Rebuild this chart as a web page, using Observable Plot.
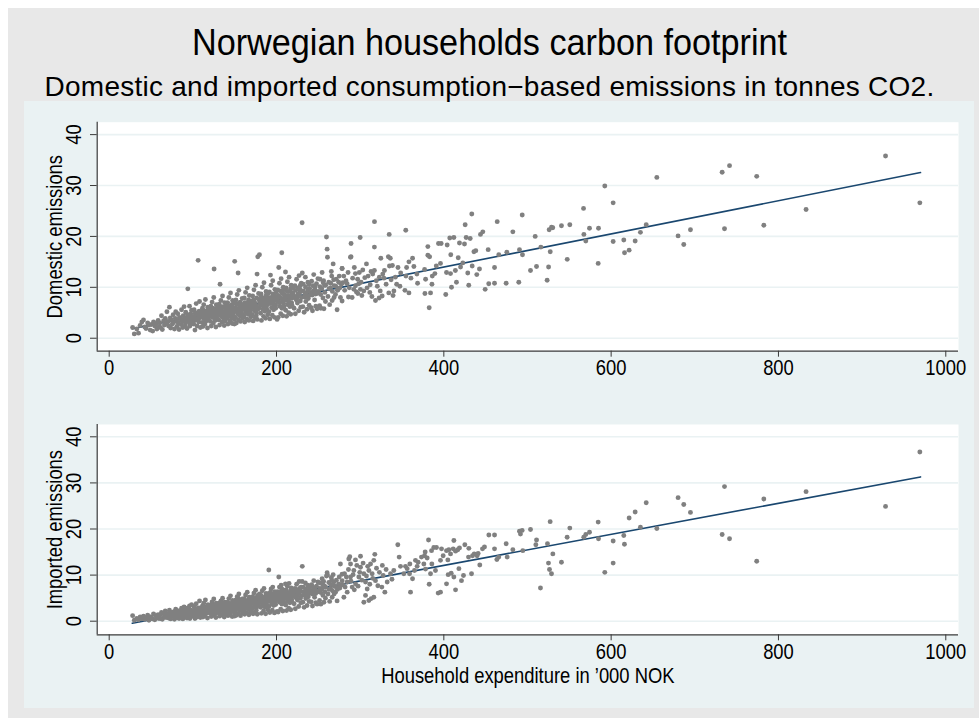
<!DOCTYPE html>
<html><head><meta charset="utf-8">
<script src="https://cdn.jsdelivr.net/npm/d3@7"></script>
<script src="https://cdn.jsdelivr.net/npm/@observablehq/plot@0.6"></script>
<style>
html,body{margin:0;padding:0;background:#fff;}
#page{position:relative;width:979px;height:718px;overflow:hidden;font-family:'Liberation Sans',Arial,sans-serif;}
#outer{position:absolute;left:8px;top:8px;width:971px;height:710px;background:#e8e8e8;}
#inner{position:absolute;left:24px;top:101px;width:950px;height:607px;background:#eaf2f3;}
#title{position:absolute;left:0;width:979px;top:25px;text-align:center;font-size:36px;line-height:36px;color:#000;white-space:nowrap;transform:scaleX(0.95);transform-origin:489.5px 0;}
#subtitle{position:absolute;left:0;width:979px;top:73px;text-align:center;font-size:28px;line-height:28px;letter-spacing:0.25px;color:#000;white-space:nowrap;}
.chart{position:absolute;left:0;top:0;}
</style></head>
<body><div id="page"><div id="outer"></div><div id="inner"></div>
<div id="title">Norwegian households carbon footprint</div>
<div id="subtitle">Domestic and imported consumption−based emissions in tonnes CO2.</div>
<div id="top" class="chart"></div><div id="bottom" class="chart"></div></div>
<script>
const xTicks = [0, 200, 400, 600, 800, 1000];
const yTicks = [0, 10, 20, 30, 40];
const xLabel = "Household expenditure in ’000 NOK";
const domesticLabel = "Domestic emissions";
const importedLabel = "Imported emissions";

// dense low/middle-income households (shared expenditure, '000 NOK)
const expenditure = [
28,30,33,35,37,39,
41,42.5,44,46,47.5,49,
50.5,52,53,54.5,56,57,58.5,59.5,
60.5,61.5,62.5,63.5,65,66,67,68,69,69.5,
70.5,71,72,73,73.5,74.5,75.5,76.5,77,78,79,79.5,
80.5,81,82,82.5,83.5,84,85,86,86.5,87.5,88,88.5,89,89.5,
90.5,91,91.5,92,92.5,93,94,94.5,95.5,96,96.5,97.5,98,98.5,99,99.5,
100.5,101,101.5,102,102.5,103,103.5,104,104.5,105,105.5,106.3,107,107.5,108,108.5,109,109.5,
110.5,111,111.5,112,112.5,113,113.5,114,114.5,115,115.5,116,116.5,117,117.5,118,118.5,119,119.5,120,
120.5,121,121.5,122,122.5,123,123.5,124,124.5,125,125.4,126,126.5,127,127.5,128,128.5,129,129.5,130,122.8,126.8,
130.5,131,131.5,132,132.5,133,133.5,134,134.5,135,135.5,136,136.5,137,137.5,138,138.5,139,139.5,140,131.8,134.8,136.8,138.8,
140.5,141,141.5,142,142.5,143,143.5,144,144.5,145,145.5,146,146.5,147,147.5,148,148.5,149,149.5,150,149.7,141.8,144.8,147.8,
150.5,151,151.5,152,152.5,153,153.5,154.1,154.5,155,155.5,156,156.5,157,157.5,158,158.5,159,159.5,160,151.8,153.8,156.8,158.8,
160.5,161,161.5,162,162.5,163,163.5,164,164.5,165,165.5,166,166.5,167,167.5,168,168.5,169,169.5,170,161.8,163.8,166.8,168.8,
170.5,171,171.5,172,172.5,173,173.5,174,174.5,175,175.5,176,176.8,177,177.6,178,178.5,179,179.6,180,171.8,173.8,175.8,178.8,
180.5,181,181.5,182,182.5,183,183.5,184,184.5,185,185.5,186,186.5,187,187.5,188,188.5,189,189.5,190,182.8,186.8,
190.8,191,191.5,192,192.8,193,193.5,194,194.5,195,195.5,196,196.5,197,197.5,198,198.5,199,199.5,200,191.8,196.8,
200.5,200.7,201.5,202,202.7,203,203.5,204,204.5,205,205.5,206.3,206.5,207,207.5,208,208.5,209,209.5,210,
210.7,211,211.5,212,212.5,213,213.5,214,214.5,215,215.5,216,216.5,217,217.5,218,218.5,219.5,
220.5,221,222,222.5,223.5,224,225,225.5,226.5,227,228,228.5,229,229.5,224.8,227.8,
230.6,231.5,232,233,233.5,234.5,235,236,236.5,237.5,238,239,239.5,230.8,
240.5,241.5,242,243,244,244.5,245.5,246,247,248,248.5,249.5,
250.5,251.5,252,253,254,254.5,255.5,256.3,256.7,257.5,258.5,259.7,
260.5,260.9,261.5,262.5,263.5,264.5,265.5,266.5,267.7,269,
270.5,271.5,272.4,273.5,275,276.4,277.5,278.4
];
const domestic = [
2.1,0.85,1.8,1.0,2.5,3.2,
3.6,2.2,1.9,3.0,2.6,1.6,
2.7,1.4,3.2,2.4,2.9,1.8,3.5,2.2,
3.0,2.1,4.4,1.7,3.4,2.6,3.9,2.9,5.2,3.2,
3.3,2.4,6.1,4.0,2.0,3.6,2.8,4.6,3.1,1.8,3.9,5.2,
3.5,2.3,4.8,3.0,1.7,4.1,3.8,2.7,5.6,3.3,2.1,4.4,3.6,6.2,
4.0,2.6,5.1,3.9,3.4,1.9,9.7,4.4,3.1,6.3,2.4,4.8,3.7,5.5,2.9,4.2,
4.3,2.8,5.6,3.5,1.6,4.9,3.7,6.8,3.9,2.4,4.6,15.3,3.2,5.3,7.2,4.0,2.1,4.7,
4.6,3.1,5.9,2.3,4.2,6.6,3.8,5.0,2.8,7.6,4.4,3.4,5.4,4.0,2.0,6.1,4.8,3.6,5.7,4.3,
5.0,3.3,6.3,2.4,4.6,7.1,4.1,5.5,3.0,8.0,13.6,4.8,3.7,5.8,2.2,6.6,4.4,3.9,6.0,5.2,4.9,3.5,
5.3,3.6,6.7,2.6,10.6,4.9,7.4,4.3,5.8,3.2,8.3,5.1,3.9,6.2,2.5,7.0,4.7,4.1,6.5,5.5,5.0,6.0,4.5,3.4,
5.6,3.9,7.0,2.8,5.2,8.0,4.5,6.1,3.4,8.9,5.4,4.1,6.6,2.9,7.4,5.0,4.4,6.9,3.7,15.1,2.8,6.3,5.8,4.8,
6.0,4.1,7.5,3.0,5.6,8.6,4.8,12.8,3.6,9.4,5.8,4.4,7.1,3.3,6.4,5.3,4.7,7.8,3.9,6.2,6.7,5.1,5.9,4.3,
6.3,4.4,7.9,3.2,5.9,9.0,5.1,6.7,3.8,9.9,6.1,4.7,7.5,3.5,8.4,5.6,5.0,7.2,4.2,6.5,6.9,5.4,6.2,4.6,
6.6,4.6,8.3,3.4,6.2,9.5,5.4,7.0,4.0,10.4,6.4,5.0,12.6,3.7,16.0,5.9,8.8,7.6,16.4,6.8,7.2,5.7,4.4,6.0,
7.0,4.9,8.7,3.5,6.5,10.0,5.7,7.4,4.3,10.9,6.8,5.3,8.0,3.9,9.2,6.2,5.6,7.9,4.6,7.1,7.6,6.0,
7.3,5.2,9.1,3.8,12.4,6.8,10.4,6.0,7.7,4.5,11.3,7.1,5.6,8.4,4.1,9.6,6.5,5.9,8.2,7.4,7.9,6.3,
7.7,3.7,9.5,4.1,13.9,7.1,10.8,6.3,8.0,4.8,11.7,16.8,5.9,8.8,4.4,10.0,6.8,6.2,8.6,7.8,
13.0,5.5,9.9,4.3,7.4,11.1,6.6,8.3,5.0,12.0,7.9,6.2,9.3,4.7,10.4,7.0,6.5,8.9,
8.3,5.9,10.3,4.8,7.7,11.6,6.9,8.7,5.4,12.3,9.6,7.3,6.1,10.8,8.0,9.0,
22.7,6.2,10.6,5.1,8.1,12.0,7.2,9.0,5.7,11.0,7.8,6.5,9.8,12.8,
8.5,6.0,11.2,5.4,9.3,12.5,7.5,10.1,6.3,8.8,5.8,11.7,
8.9,6.4,11.6,5.9,9.7,12.9,7.9,11.3,5.8,10.4,7.2,19.9,
17.5,15.9,8.2,11.0,6.6,9.9,13.1,7.4,14.6,10.3,
8.6,11.6,5.6,9.5,12.2,8.0,10.6,13.7
];
const imported = [
1.2,0.2,0.6,0.3,0.9,0.5,
1.1,0.4,0.7,1.3,0.2,0.9,
0.9,0.5,1.6,0.3,1.2,0.7,1.4,0.6,
1.3,0.6,1.9,0.4,1.6,1.0,2.2,0.8,1.7,1.2,
1.5,0.7,2.4,1.8,0.5,1.4,1.1,2.0,1.6,0.4,1.3,2.6,
1.8,0.8,2.3,1.4,0.6,2.0,1.7,1.1,2.8,1.5,0.5,2.2,1.2,3.1,
2.0,1.0,2.6,1.7,1.6,0.7,2.9,2.3,1.3,3.3,0.6,2.4,1.9,3.6,1.1,2.1,
2.3,1.2,3.1,1.8,0.6,2.7,1.9,3.8,2.0,0.9,2.5,2.8,1.4,2.9,4.4,2.2,0.8,2.6,
2.6,1.5,3.3,0.9,2.2,3.9,2.0,2.9,1.1,4.6,2.4,1.7,3.0,2.1,0.7,3.6,2.7,1.9,3.4,2.5,
2.9,1.7,3.5,1.0,2.4,4.2,2.2,3.2,1.3,4.8,3.5,2.7,1.9,3.4,0.8,3.9,2.5,2.0,3.7,3.0,2.8,1.6,
3.1,1.8,3.8,1.1,4.0,2.7,4.4,2.3,3.4,1.4,5.0,3.0,2.0,3.6,0.9,4.1,2.6,2.1,3.9,3.2,2.9,3.5,2.4,1.6,
3.4,2.0,4.1,1.2,3.0,4.9,2.5,3.7,1.6,5.5,3.2,2.2,3.9,1.0,4.5,2.9,2.4,4.2,1.8,3.8,1.1,3.6,3.3,2.6,
3.7,2.2,4.6,1.3,3.3,5.3,2.8,5.0,1.7,5.9,3.5,2.4,4.3,1.2,3.8,3.1,2.6,4.8,1.9,3.6,4.0,3.0,3.4,2.3,
4.0,2.5,4.9,1.5,3.6,5.7,3.0,4.2,1.9,6.3,3.8,2.7,4.6,1.4,5.2,3.4,2.9,4.4,2.1,3.9,4.3,3.2,3.7,2.6,
4.3,2.7,5.3,1.6,3.9,6.1,3.2,4.5,2.0,6.7,4.1,2.9,5.1,1.5,5.6,3.6,5.5,4.8,5.9,4.2,4.6,3.5,2.3,3.8,
4.7,3.0,5.6,1.7,4.2,6.6,3.5,4.8,2.2,7.1,4.4,3.1,5.3,1.6,6.0,3.9,3.3,5.0,2.5,4.5,4.9,3.8,
11.1,3.2,6.0,1.9,6.3,4.4,7.0,3.8,5.2,2.4,7.4,4.6,3.4,5.7,1.8,6.4,4.1,3.6,5.4,4.8,5.1,4.0,
5.3,2.1,6.4,2.0,9.6,4.7,7.4,4.1,5.5,2.6,7.8,7.0,3.7,6.0,2.2,6.8,4.4,3.9,5.8,5.1,
8.1,3.5,6.8,2.3,5.0,7.6,4.3,5.8,2.8,8.2,5.4,4.0,6.3,2.5,7.2,4.7,4.2,6.1,
5.9,3.8,7.1,2.7,5.3,8.0,4.6,6.2,3.2,8.6,6.7,5.0,4.0,7.4,5.6,6.4,
8.6,4.1,7.4,3.0,5.6,8.3,4.9,6.5,3.4,7.8,5.3,4.3,6.9,11.9,
6.1,4.2,7.9,3.3,6.6,8.8,5.2,7.2,4.0,6.3,3.7,8.5,
6.5,4.5,8.3,3.7,7.0,9.2,5.6,8.6,4.1,7.6,5.0,9.8,
10.5,10.0,5.9,8.4,4.3,7.1,9.5,5.2,10.1,7.6,
6.3,8.9,4.4,7.2,9.6,12.4,7.9,10.2
];

// core of the cloud (households close to the fitted lines)
const expenditureCore = [
90.8,93.6,95.2,97.1,99.8,101.8,103.2,105.8,107.8,109.8,
111.8,113.8,115.8,117.8,119.8,121.8,123.8,125.8,127.8,129.8,
130.8,132.8,133.8,135.8,137.8,139.8,140.8,142.8,143.8,145.8,
146.8,148.8,150.8,152.8,154.8,155.8,157.8,159.8,160.8,162.8,
164.8,165.8,167.8,169.8,170.8,172.8,174.8,176.3,177.8,179.8,
180.8,181.8,183.8,184.8,185.8,187.8,188.8,189.8,190.3,192.3,
193.8,194.8,195.8,197.8,198.8,199.8,201.2,202.3,203.8,204.8,
205.8,206.8,207.8,208.8,209.8,211.3,212.8,213.8,215.3,216.8,
217.8,218.8,219.8,221.5,222.8,223.8,225.8,226.8,228.3,229.8,
231.8,233.8,234.8,236.8,237.8,238.8,240.8,242.8,243.8,245.8,
246.8,247.8,249.8,251.8,252.8,253.8,255.8,257.8,258.8,262.8,
264.8,266.8,268.3,270.8,272.8,274.3,266,268.8,275.8,279.2
];
const domesticCore = [
3.2,4.6,3.9,4.1,3.4,4.0,5.0,3.6,4.4,5.2,
4.1,5.3,3.7,5.1,4.6,4.3,5.9,4.2,5.4,4.7,
5.8,4.6,6.2,5.2,4.9,6.0,5.1,6.4,4.7,5.5,
6.1,5.6,5.3,6.8,5.7,6.3,5.0,6.6,5.8,7.0,
6.0,6.8,5.5,7.3,6.1,7.5,6.4,7.9,5.7,7.1,
6.6,8.2,6.9,7.8,6.3,8.5,7.3,6.7,8.8,7.5,
8.0,6.9,8.7,7.6,6.6,9.1,7.3,8.4,7.0,9.3,
7.8,8.9,7.2,9.5,8.1,7.6,9.2,8.4,7.1,9.7,
8.6,7.9,9.9,8.2,9.4,7.5,9.9,8.6,10.3,8.0,
9.3,8.6,10.0,8.2,9.5,10.6,9.0,8.5,10.3,9.6,
8.7,10.7,9.2,10.1,8.6,9.8,10.9,9.0,10.4,9.7,
10.8,9.2,11.5,10.2,9.4,11.0,12.2,8.0,9.9,10.9
];
const importedCore = [
1.5,2.5,1.8,2.2,1.4,2.0,2.6,1.7,2.4,2.9,
2.3,3.1,1.9,2.8,2.6,2.1,3.4,2.3,3.0,2.5,
3.3,2.6,3.7,2.9,2.8,3.5,3.0,3.9,2.7,3.2,
3.6,3.4,3.1,4.1,3.5,3.9,2.8,4.0,3.5,4.4,
3.8,4.1,3.3,4.7,3.9,4.8,4.2,5.1,3.4,4.6,
4.3,5.4,4.6,5.1,4.0,5.6,4.9,4.4,5.9,5.0,
5.3,4.5,5.9,5.1,4.3,6.1,4.8,5.7,4.6,6.3,
5.2,5.9,4.9,6.4,5.4,5.0,6.2,5.7,4.8,6.6,
5.8,5.3,6.8,5.6,6.5,5.0,6.9,6.0,7.2,5.5,
6.4,6.0,7.0,5.7,6.6,7.5,6.3,5.9,7.3,6.8,
6.0,7.6,6.5,7.1,6.2,7.0,7.8,6.4,7.4,6.9,
7.9,6.6,8.4,7.5,6.9,8.1,8.9,5.9,7.2,7.9
];

// middle/upper-income households: [expenditure, emissions]
const domesticMid = [
[592.4,29.9],[602.4,26.6],[567,25.5],[493.7,24.2],[433.4,24.4],[463.8,22.9],[425.5,22.3],[317.1,22.9],[354.5,21.2],[334.7,20.4],
[300,19.8],[540.6,22.1],[550.6,22.3],[530.2,21.7],[525.9,21.3],[574.1,21.6],[584.9,21.6],[567.4,20.4],[569.7,19.1],[615.1,19.3],
[628.7,19.1],[616,16.8],[621.5,17.3],[602.4,19.0],[584.5,14.7],[547.5,15.5],[516,17.9],[527.2,17.0],[525.2,14.0],[523.5,11.4],
[510.8,14.1],[503.6,13.3],[509.2,20.0],[482.5,20.9],[490.4,17.4],[494,16.4],[475.3,16.9],[465.7,16.4],[489.6,11.0],[474.5,10.8],
[460.6,10.8],[453.7,10.7],[449.4,9.6],[460.6,13.9],[453,17.4],[446.6,20.9],[443.8,20.4],[438.2,17.2],[436,17.0],[431.5,19.6],
[426.7,19.8],[424.7,18.5],[418.7,18.7],[412,19.8],[407.1,19.7],[396.8,18.6],[393.6,18.6],[404,18.3],[380.9,18.0],[408.3,16.4],
[417.2,15.8],[422.7,14.8],[433.9,14.2],[442.6,13.6],[439.4,12.5],[428.6,12.8],[429.8,10.4],[415.1,11.0],[409.2,10.0],[402.3,8.6],
[382.5,6.0],[408,12.7],[403.2,12.9],[413.8,13.3],[420,14.0],[396,14.7],[391,14.2],[389.3,12.7],[386.2,12.2],[385.8,10.6],
[384.1,8.9],[377.4,8.8],[380.9,16.3],[383,16.0],[377,13.5],[378.2,11.6],[364.2,14.1],[362.6,15.7],[358.3,15.0],[355.5,13.9],
[360.7,11.8],[367.8,12.6],[368.6,10.8],[358.3,8.9],[353.5,9.4],[347.5,10.2],[343.6,10.6],[354.7,12.2],[348.4,12.8],[345.2,13.9],
[336,15.7],[333.7,16.0],[338.5,14.3],[335,14.2],[329,13.3],[324.7,15.7],[317,17.9],[317,13.3],[322.9,12.0],[319.3,11.3],
[315,12.6],[313,13.1],[307.5,14.6],[303.1,13.4],[294.3,12.7],[289.1,16.0],[289.1,18.6],[339.3,8.4],[334.2,8.9],[318.3,7.4],
[322.7,7.9],[326.3,8.3],[311.5,9.0],[308.3,9.9],[304.3,9.3],[300.3,9.6],[297.2,8.8],[292.4,9.6],[290.4,8.0],[286,8.1],
[284.4,10.7],[280.4,12.2],[278.4,7.3],[298.3,10.7],[294.4,10.3],[301.1,11.0],[328.4,11.8],[340.3,9.3],[528.7,21.8],[288.4,15.9],
[278.4,13.7],[281.5,9.4],[283,11.3],[285.5,12.9],[287,9.9],[291,11.8],[293,13.9],[295.5,9.1],[297,11.6],[299,12.9],
[302,8.4],[305.5,11.9],[309.5,12.2],[312,10.5],[314,8.2],[320.5,10.2],[324,9.3],[327,12.6],[331,10.6],[337,11.5],[342,12.0]
];
const importedMid = [
[628.7,23.7],[621.5,22.4],[615.1,18.6],[615.9,16.7],[602.4,17.4],[602.4,12.6],[592.4,10.6],[584.5,21.5],[584.9,17.9],[574.1,19.3],
[569.7,18.8],[567.3,18.2],[550.6,20.2],[547.4,18.2],[540.6,12.8],[530.3,14.6],[527.1,21.6],[523.9,16.8],[525.1,12.6],[526.3,11.2],
[528.7,10.3],[510.8,17.6],[510,16.6],[503.6,19.9],[493.6,19.7],[491.6,18.9],[490.4,19.5],[494.4,15.3],[482.5,15.5],[474.5,16.8],
[475.7,13.9],[463.4,13.4],[465.7,13.9],[460.6,18.7],[453.8,18.7],[460.6,15.7],[448.6,16.1],[446.2,15.7],[443,12.2],[441,14.7],
[439.8,14.2],[436.3,14.6],[434.3,14.2],[433.1,10.3],[429.9,15.8],[429.5,13.9],[425.1,16.6],[418.7,15.9],[416.7,15.5],[414,15.2],
[412,17.5],[411.2,15.7],[408,14.6],[404.8,13.3],[406,15.5],[403.2,15.3],[399.2,14.2],[397.2,15.7],[391.2,16.0],[388,16.0],
[385.3,15.3],[381.7,17.6],[380.1,13.7],[385.7,12.4],[384.1,10.3],[382.5,8.0],[377.7,15.0],[376.9,14.2],[376.1,12.4],[378.1,11.3],
[412,9.6],[405.2,10.1],[408.8,10.4],[403.2,8.1],[396,6.3],[393.2,6.1],[421.1,8.8],[423.5,9.9],[414,6.8],[418,11.4],
[396,13.2],[390,11.0],[373.3,13.9],[369.3,12.8],[366.1,13.2],[368.1,11.9],[364.9,11.0],[362.6,9.2],[359,10.3],[356.2,11.4],
[360.2,6.3],[359.4,12.4],[354.2,11.9],[352.2,10.3],[348.2,11.9],[346.6,13.9],[345,16.6],[340.2,11.0],[336.3,10.3],[332.3,8.5],
[329.5,6.3],[327.5,9.9],[325.9,7.4],[321.1,7.7],[317.5,14.5],[316.3,13.2],[312.4,12.4],[310.4,11.0],[314.3,10.3],[318.3,8.8],
[313.2,4.9],[316.3,5.2],[310.4,4.5],[304.4,4.1],[306.4,5.6],[300.4,14.1],[294.4,13.3],[288.5,12.4],[300.4,11.7],[304.4,10.3],
[298.4,9.6],[294.4,8.1],[290.4,7.4],[284.5,6.3],[280.5,5.2],[284.5,8.5],[288.5,9.6],[292.4,11.0],[306.4,8.5],[308.4,7.0],
[278.5,8.8],[281.3,10.3],[515.5,7.2],[287.6,14.0],[286.4,13.5],[282,7.4],[283.5,9.6],[286,11.2],[289,8.7],[291.5,10.1],
[293,6.8],[296,12.1],[297.5,7.6],[299.5,10.6],[302,8.9],[303.5,12.6],[307.5,9.8],[309,11.9],[311.5,8.0],[315,9.3],
[319.5,11.5],[323,10.6],[326.5,12.1],[331,11.2],[338,9.1]
];

// richest households (paired across panels)
const richExpenditure = [969, 928, 741.5, 732.7, 774, 654.6, 833, 735.5, 782.5, 641.9, 635, 680, 694.8, 686.8];
const richDomestic    = [26.6, 35.8, 33.9, 32.6, 31.8, 31.6, 25.3, 21.5, 22.2, 22.3, 20.8, 20.1, 21.3, 18.4];
const richImported    = [36.7, 24.9, 17.9, 18.8, 13.0, 20.1, 28.1, 29.2, 26.5, 25.7, 20.4, 26.8, 23.6, 25.3];

// fitted linear regression lines (end points)
const fitExpenditure = [27.5, 969.8];
const fitDomestic = [1.85, 32.55];
const fitImported = [-0.43, 31.3];

const xDomain = [-14.34, 1015.2];
const FONT = "'Liberation Sans',Arial,sans-serif";
const AXIS = "#3a3a3a";
const FS = 21.5;      // axis text size
const SQUEEZE = 0.855; // condensed look of the original's axis font

function buildPoints(ys, coreYs, mid, richY) {
  return [
    ...expenditure.map((x, i) => ({x, y: ys[i]})),
    ...expenditureCore.map((x, i) => ({x, y: coreYs[i]})),
    ...mid.map(([x, y]) => ({x, y})),
    ...richExpenditure.map((x, i) => ({x, y: richY[i]}))
  ];
}

function panel({points, fitY, yDomain, top, bottom, yLabel, withXLabel}) {
  const H = 718;
  const fit = fitExpenditure.map((x, i) => ({x, y: fitY[i]}));
  const marks = [
    Plot.frame({fill: "white", stroke: null}),
    Plot.ruleY(yTicks, {stroke: "#eaf2f3", strokeWidth: 1.6}),
    Plot.line(fit, {x: "x", y: "y", stroke: "#1a476f", strokeWidth: 1.6}),
    Plot.dot(points, {x: "x", y: "y", r: 2.45, fill: "#808080", stroke: null}),
    Plot.ruleX([xDomain[0]], {stroke: AXIS, strokeWidth: 1.2}),
    Plot.ruleY([yDomain[0]], {stroke: AXIS, strokeWidth: 1.2}),
    Plot.axisX({ticks: xTicks, tickSize: 6, tickPadding: 2.5, tickFormat: d => String(d), label: null, fontSize: FS, stroke: AXIS, fill: "#000"}),
    Plot.axisY({ticks: yTicks, tickSize: 6.7, fill: "none", label: null, stroke: AXIS}),
    Plot.text(yTicks, {y: d => d, text: d => String(d), frameAnchor: "left", dx: -23.4, rotate: -90, textAnchor: "middle", lineAnchor: "middle", fontSize: FS, fill: "#000"}),
    Plot.text([yLabel], {frameAnchor: "left", dx: -42.5, rotate: -90, textAnchor: "middle", lineAnchor: "middle", fontSize: FS, fill: "#000"})
  ];
  if (withXLabel) marks.push(Plot.text([xLabel], {frameAnchor: "bottom", dy: 41.2, lineAnchor: "middle", fontSize: FS, fill: "#000"}));
  return Plot.plot({
    width: 979, height: H,
    marginLeft: 96.7, marginRight: 979 - 958, marginTop: top, marginBottom: H - bottom,
    x: {domain: xDomain},
    y: {domain: yDomain},
    style: {fontFamily: FONT, fontSize: FS + "px", background: "transparent", overflow: "visible"},
    marks
  });
}

function squeezeText(svg) {
  svg.querySelectorAll("text").forEach(t => {
    const L = t.getComputedTextLength();
    if (L > 0) {
      t.setAttribute("textLength", (L * SQUEEZE).toFixed(2));
      t.setAttribute("lengthAdjust", "spacingAndGlyphs");
    }
  });
}

const topSvg = panel({
  points: buildPoints(domestic, domesticCore, domesticMid, richDomestic),
  fitY: fitDomestic, yDomain: [-2.55, 42.44], top: 121.7, bottom: 350.7, yLabel: domesticLabel, withXLabel: false
});
const bottomSvg = panel({
  points: buildPoints(imported, importedCore, importedMid, richImported),
  fitY: fitImported, yDomain: [-2.95, 42.67], top: 424, bottom: 634.3, yLabel: importedLabel, withXLabel: true
});
document.getElementById("top").appendChild(topSvg);
document.getElementById("bottom").appendChild(bottomSvg);
squeezeText(topSvg);
squeezeText(bottomSvg);
</script></body></html>
